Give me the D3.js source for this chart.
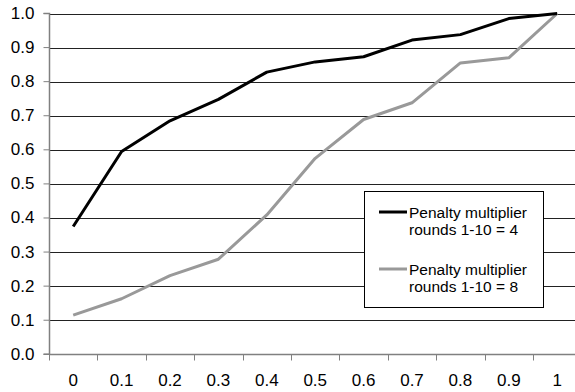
<!DOCTYPE html>
<html><head><meta charset="utf-8">
<script src="https://cdn.jsdelivr.net/npm/d3@7/dist/d3.min.js"></script>
<style>body{margin:0;background:#fff}svg{display:block}text{font-family:"Liberation Sans",Arial,sans-serif}</style>
</head><body><svg id="c" width="575" height="392"></svg>
<script>
const categories = ["0","0.1","0.2","0.3","0.4","0.5","0.6","0.7","0.8","0.9","1"];
const seriesNames = ["Penalty multiplier rounds 1-10 = 4","Penalty multiplier rounds 1-10 = 8"];
const seriesA = [0.375,0.595,0.685,0.748,0.828,0.858,0.873,0.922,0.938,0.985,1.0];
const seriesB = [0.115,0.163,0.231,0.279,0.409,0.575,0.689,0.738,0.855,0.870,1.0];
const yTicks = [0,0.1,0.2,0.3,0.4,0.5,0.6,0.7,0.8,0.9,1.0];
const colors = ["#000000","#999999"];

const svg = d3.select("#c");
const L=49, R=581.4, T=13.5, B=354.3;
const x = d3.scaleBand().domain(categories).range([L,R]).padding(0);
const y = d3.scaleLinear().domain([0,1]).range([B,T]);

// gridlines
svg.append("g").selectAll("line").data(yTicks.slice(1)).join("line")
  .attr("x1",L).attr("x2",R).attr("y1",d=>Math.round(y(d))+0.5).attr("y2",d=>Math.round(y(d))+0.5)
  .attr("stroke","#222").attr("stroke-width",1);

// y axis
const ya = svg.append("g").attr("transform",`translate(${L+0.5},0)`)
  .call(d3.axisLeft(y).tickValues(yTicks).tickFormat(d3.format(".1f")).tickSize(6).tickPadding(9).offset(0));
ya.select(".domain").attr("stroke","#808080").attr("stroke-width",1.5);
ya.selectAll(".tick line").attr("stroke","#808080");
ya.selectAll("text").attr("font-size",17).attr("fill","#000").attr("font-family","Liberation Sans, Arial, sans-serif");

// x axis
const xa = svg.append("g").attr("transform",`translate(0,${Math.round(B)+0.5})`)
  .call(d3.axisBottom(x).tickSize(0).tickPadding(0).offset(0));
xa.select(".domain").attr("stroke","#808080").attr("stroke-width",1.5);
xa.selectAll(".tick text").attr("font-size",17).attr("fill","#000").attr("y",19).attr("dy","0.71em")
  .attr("font-family","Liberation Sans, Arial, sans-serif");
xa.append("g").selectAll("line").data(d3.range(categories.length+1)).join("line")
  .attr("x1",i=>Math.round(L+i*x.bandwidth())+0.5).attr("x2",i=>Math.round(L+i*x.bandwidth())+0.5)
  .attr("y1",0).attr("y2",6).attr("stroke","#808080").attr("stroke-width",1);

// lines
const line = d3.line().x((d,i)=>x(categories[i])+x.bandwidth()/2).y(d=>y(d));
[seriesB, seriesA].forEach((s,k)=>{
  const ci = k===0?1:0;
  svg.append("path").datum(s).attr("d",line).attr("fill","none")
    .attr("stroke",colors[ci]).attr("stroke-width",3).attr("stroke-linejoin","round");
});

// legend
const lg = svg.append("g");
lg.append("rect").attr("x",364.5).attr("y",191.5).attr("width",179).attr("height",116)
  .attr("fill","#fff").attr("stroke","#000").attr("stroke-width",1);
const entries = [{name:seriesNames[0],c:colors[0],ly:212},{name:seriesNames[1],c:colors[1],ly:269}];
entries.forEach(e=>{
  lg.append("line").attr("x1",379).attr("x2",407).attr("y1",e.ly).attr("y2",e.ly)
    .attr("stroke",e.c).attr("stroke-width",3);
  const t = lg.append("text").attr("x",409).attr("y",e.ly+5.5).attr("font-size",15.5).attr("fill","#000");
  const parts = e.name.split(" rounds");
  t.append("tspan").attr("x",409).text(parts[0]);
  t.append("tspan").attr("x",409).attr("dy",17.5).text("rounds"+parts[1]);
});
</script></body></html>
